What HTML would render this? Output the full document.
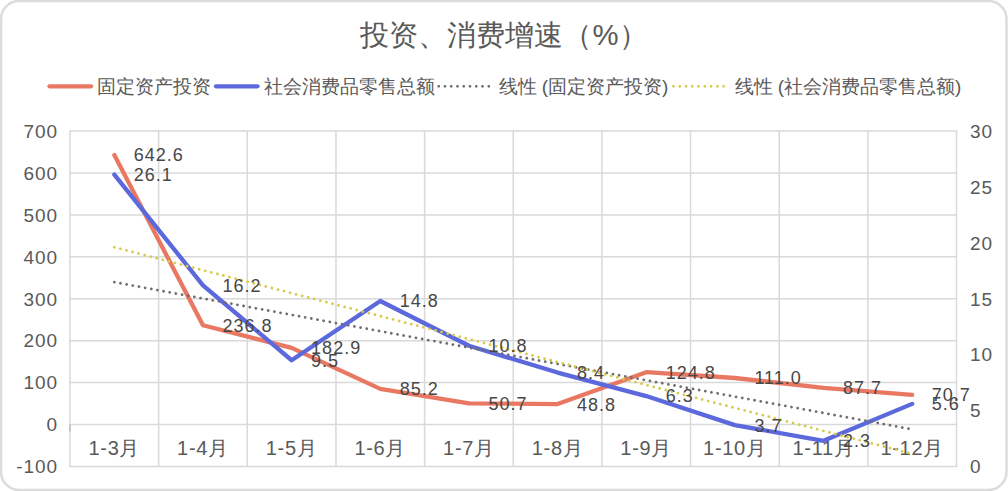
<!DOCTYPE html>
<html><head><meta charset="utf-8"><style>
html,body{margin:0;padding:0;background:#fff;width:1008px;height:491px;overflow:hidden;position:relative}
text{font-family:"Liberation Sans",sans-serif}
.ax{font-size:19px;fill:#595959;letter-spacing:0.9px}
.cat{font-size:20px;fill:#595959;letter-spacing:0.7px}
.dl{font-size:18px;fill:#474747;letter-spacing:1px}
.lg{font-size:19px;fill:#595959}
.tt{font-size:29.3px;fill:#595959}
</style></head><body>
<svg width="1008" height="491" style="position:absolute;left:0;top:0">
<rect x="1" y="1" width="1005.5" height="489" rx="18" ry="18" fill="#fff" stroke="#dcdcdc" stroke-width="2.5"/>
<line x1="69.25" y1="131.00" x2="957.25" y2="131.00" stroke="#d9d9d9" stroke-width="1.5"/>
<line x1="69.25" y1="172.94" x2="957.25" y2="172.94" stroke="#d9d9d9" stroke-width="1.5"/>
<line x1="69.25" y1="214.88" x2="957.25" y2="214.88" stroke="#d9d9d9" stroke-width="1.5"/>
<line x1="69.25" y1="256.81" x2="957.25" y2="256.81" stroke="#d9d9d9" stroke-width="1.5"/>
<line x1="69.25" y1="298.75" x2="957.25" y2="298.75" stroke="#d9d9d9" stroke-width="1.5"/>
<line x1="69.25" y1="340.69" x2="957.25" y2="340.69" stroke="#d9d9d9" stroke-width="1.5"/>
<line x1="69.25" y1="382.62" x2="957.25" y2="382.62" stroke="#d9d9d9" stroke-width="1.5"/>
<line x1="69.25" y1="424.56" x2="957.25" y2="424.56" stroke="#d9d9d9" stroke-width="1.5"/>
<line x1="69.25" y1="466.50" x2="957.25" y2="466.50" stroke="#d9d9d9" stroke-width="1.5"/>
<line x1="70.00" y1="131.00" x2="70.00" y2="466.50" stroke="#d9d9d9" stroke-width="1.5"/>
<line x1="158.65" y1="131.00" x2="158.65" y2="466.50" stroke="#d9d9d9" stroke-width="1.5"/>
<line x1="247.30" y1="131.00" x2="247.30" y2="466.50" stroke="#d9d9d9" stroke-width="1.5"/>
<line x1="335.95" y1="131.00" x2="335.95" y2="466.50" stroke="#d9d9d9" stroke-width="1.5"/>
<line x1="424.60" y1="131.00" x2="424.60" y2="466.50" stroke="#d9d9d9" stroke-width="1.5"/>
<line x1="513.25" y1="131.00" x2="513.25" y2="466.50" stroke="#d9d9d9" stroke-width="1.5"/>
<line x1="601.90" y1="131.00" x2="601.90" y2="466.50" stroke="#d9d9d9" stroke-width="1.5"/>
<line x1="690.55" y1="131.00" x2="690.55" y2="466.50" stroke="#d9d9d9" stroke-width="1.5"/>
<line x1="779.20" y1="131.00" x2="779.20" y2="466.50" stroke="#d9d9d9" stroke-width="1.5"/>
<line x1="867.85" y1="131.00" x2="867.85" y2="466.50" stroke="#d9d9d9" stroke-width="1.5"/>
<line x1="956.50" y1="131.00" x2="956.50" y2="466.50" stroke="#d9d9d9" stroke-width="1.5"/>
<line x1="70.0" y1="424.56" x2="70.0" y2="431.56" stroke="#bfbfbf" stroke-width="1.5"/>
<text x="58" y="473.30" text-anchor="end" class="ax">-100</text>
<text x="58" y="431.36" text-anchor="end" class="ax">0</text>
<text x="58" y="389.43" text-anchor="end" class="ax">100</text>
<text x="58" y="347.49" text-anchor="end" class="ax">200</text>
<text x="58" y="305.55" text-anchor="end" class="ax">300</text>
<text x="58" y="263.61" text-anchor="end" class="ax">400</text>
<text x="58" y="221.68" text-anchor="end" class="ax">500</text>
<text x="58" y="179.74" text-anchor="end" class="ax">600</text>
<text x="58" y="137.80" text-anchor="end" class="ax">700</text>
<text x="970" y="473.30" class="ax">0</text>
<text x="970" y="417.38" class="ax">5</text>
<text x="970" y="361.47" class="ax">10</text>
<text x="970" y="305.55" class="ax">15</text>
<text x="970" y="249.63" class="ax">20</text>
<text x="970" y="193.72" class="ax">25</text>
<text x="970" y="137.80" class="ax">30</text>
<text x="114.33" y="455.00" text-anchor="middle" class="cat">1-3月</text>
<text x="202.98" y="455.00" text-anchor="middle" class="cat">1-4月</text>
<text x="291.62" y="455.00" text-anchor="middle" class="cat">1-5月</text>
<text x="380.28" y="455.00" text-anchor="middle" class="cat">1-6月</text>
<text x="468.93" y="455.00" text-anchor="middle" class="cat">1-7月</text>
<text x="557.58" y="455.00" text-anchor="middle" class="cat">1-8月</text>
<text x="646.23" y="455.00" text-anchor="middle" class="cat">1-9月</text>
<text x="734.88" y="455.00" text-anchor="middle" class="cat">1-10月</text>
<text x="823.53" y="455.00" text-anchor="middle" class="cat">1-11月</text>
<text x="912.18" y="455.00" text-anchor="middle" class="cat">1-12月</text>
<polyline points="114.33,155.07 202.98,325.25 291.62,347.86 380.28,388.83 468.93,403.30 557.58,404.10 646.23,372.22 734.88,378.01 823.53,387.78 912.18,394.91" fill="none" stroke="#e97863" stroke-width="4.3" stroke-linejoin="round" stroke-linecap="round"/>
<polyline points="114.33,174.61 202.98,285.33 291.62,360.26 380.28,300.99 468.93,345.72 557.58,372.56 646.23,396.05 734.88,425.12 823.53,440.78 912.18,403.87" fill="none" stroke="#5b69dc" stroke-width="4.3" stroke-linejoin="round" stroke-linecap="round"/>
<line x1="114.33" y1="282.15" x2="912.18" y2="429.32" stroke="#6e6e6e" stroke-width="2.8" stroke-dasharray="0.01 6.25" stroke-linecap="round"/>
<line x1="114.33" y1="247.23" x2="912.18" y2="453.83" stroke="#d6ca4e" stroke-width="2.8" stroke-dasharray="0.01 6.25" stroke-linecap="round"/>
<text x="133.82" y="161.47" class="dl">642.6</text>
<text x="133.82" y="181.01" class="dl">26.1</text>
<text x="222.48" y="331.65" class="dl">236.8</text>
<text x="222.48" y="291.73" class="dl">16.2</text>
<text x="311.12" y="354.26" class="dl">182.9</text>
<text x="311.12" y="366.66" class="dl">9.5</text>
<text x="399.78" y="395.23" class="dl">85.2</text>
<text x="399.78" y="307.39" class="dl">14.8</text>
<text x="488.43" y="409.70" class="dl">50.7</text>
<text x="488.43" y="352.12" class="dl">10.8</text>
<text x="577.08" y="410.50" class="dl">48.8</text>
<text x="577.08" y="378.96" class="dl">8.4</text>
<text x="665.73" y="378.62" class="dl">124.8</text>
<text x="665.73" y="402.44" class="dl">6.3</text>
<text x="754.38" y="384.41" class="dl">111.0</text>
<text x="754.38" y="431.52" class="dl">3.7</text>
<text x="843.03" y="394.18" class="dl">87.7</text>
<text x="843.03" y="447.18" class="dl">2.3</text>
<text x="931.68" y="401.31" class="dl">70.7</text>
<text x="931.68" y="410.27" class="dl">5.6</text>
<line x1="49.5" y1="86.3" x2="91" y2="86.3" stroke="#e97863" stroke-width="4.3" stroke-linecap="round"/>
<text x="97" y="93.3" class="lg">固定资产投资</text>
<line x1="216" y1="86.3" x2="257.5" y2="86.3" stroke="#5b69dc" stroke-width="4.3" stroke-linecap="round"/>
<text x="264" y="93.3" class="lg">社会消费品零售总额</text>
<line x1="438.7" y1="86.3" x2="489" y2="86.3" stroke="#6e6e6e" stroke-width="2.8" stroke-dasharray="0.01 6.25" stroke-linecap="round"/>
<text x="498.5" y="93.3" class="lg">线性 (固定资产投资)</text>
<line x1="673.5" y1="86.3" x2="724" y2="86.3" stroke="#d6ca4e" stroke-width="2.8" stroke-dasharray="0.01 6.25" stroke-linecap="round"/>
<text x="734.5" y="93.3" class="lg">线性 (社会消费品零售总额)</text>
<text x="504" y="45" text-anchor="middle" class="tt">投资、消费增速（%）</text>
</svg>
</body></html>
